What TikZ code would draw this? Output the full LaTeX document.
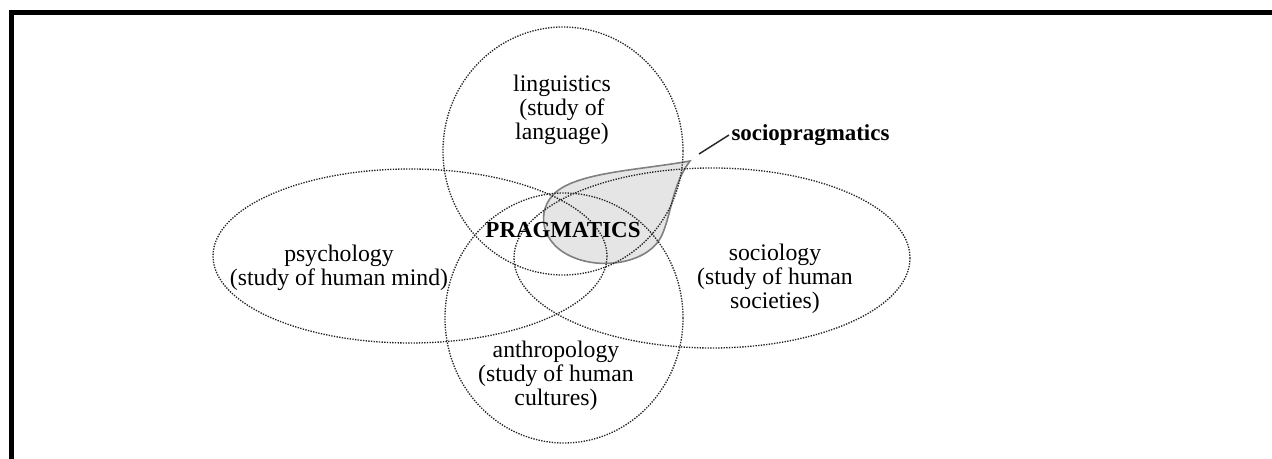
\documentclass[tikz,border=0pt]{standalone}
\usepackage{fontspec}
\setmainfont{Liberation Serif}

\tikzset{every picture/.style={line width=0.75pt}}
\tikzset{
  venn/.style={densely dotted, color={rgb, 255:red, 35; green, 35; blue, 35}, line width=1pt},
  field/.style={align=center, inner sep=0pt, font=\fontsize{17.8}{17.8}\selectfont},
  fieldbold/.style={inner sep=0pt, font=\fontsize{17.2}{17.8}\selectfont\bfseries}
}

\begin{document}
\begin{tikzpicture}[x=0.75pt,y=0.75pt,yscale=-1]
	\useasboundingbox (0,0) rectangle (1272,459);
	
	%Frame: left and top edges only
	\draw [line width=3.75pt, line join=miter] (11.5,459) -- (11.5,12.5) -- (1272,12.5) ;
	
	%Leaf shape (sociopragmatics)
	\coordinate (tip) at (690,161);
	\draw [color={rgb, 255:red, 128; green, 128; blue, 128 }, line width=1.2pt][fill={rgb, 255:red, 229; green, 229; blue, 229 }] (tip) .. controls (640,170) and (580,172) .. (556,192) .. controls (535,210) and (540,245) .. (575,258) .. controls (605,270) and (650,262) .. (662,235) .. controls (672,212) and (672,185) .. (tip) -- cycle ;
	
	%Ellipses
	\draw [venn] (563,151) ellipse [x radius=120, y radius=124] ;
	\draw [venn] (410,256) ellipse [x radius=197, y radius=87] ;
	\draw [venn] (712,258) ellipse [x radius=198, y radius=90] ;
	\draw [venn] (564,318) ellipse [x radius=119, y radius=125] ;
	
	% Text Node
	\node (ling) [field] at (562,110) {linguistics\\(study of\\language)};
	% Text Node
	\node (psy) [field] at (339,267.5) {psychology\\(study of human mind)};
	% Text Node
	\node (soc) [field] at (775,279) {sociology\\(study of human\\societies)};
	% Text Node
	\node (anth) [field] at (556,376) {anthropology\\(study of human\\cultures)};
	% Text Node
	\node (prag) [fieldbold] at (563,230) {PRAGMATICS};
	% Text Node
	\node (sp) [fieldbold, anchor=west] at (731,135) {sociopragmatics};
	
	%Leader line
	\coordinate (lead) at (699,154);
	\draw [line width=1.1pt, color={rgb, 255:red, 40; green, 40; blue, 40 }] (lead) -- ([xshift=-1.5pt]sp.west) ;
	
\end{tikzpicture}
\end{document}
